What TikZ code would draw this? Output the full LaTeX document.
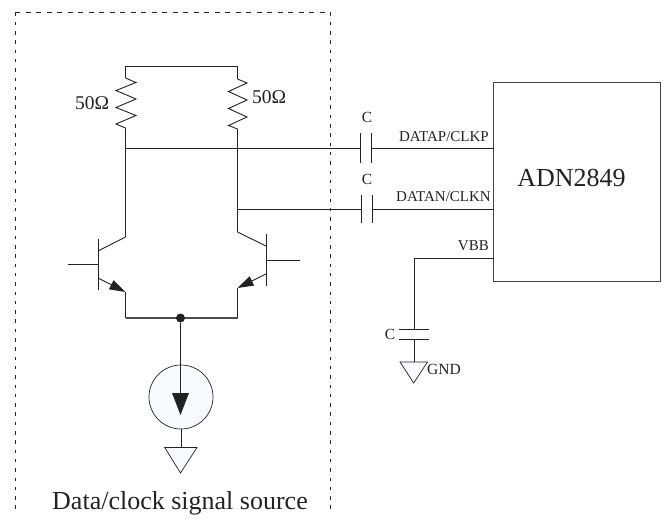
\documentclass[tikz,border=0pt]{standalone}
\usepackage{fontspec}
\setmainfont{Liberation Serif}
\usetikzlibrary{arrows.meta}
\definecolor{ink}{HTML}{222222}
\definecolor{pale}{HTML}{F8FAFE}
\tikzset{
  wire/.style={draw=ink,line width=0.9pt},
  tail wire/.style={draw=ink!80,line width=1.3pt},
  bjt arrow/.style={draw=ink,line width=0.9pt,-{Triangle[length=16pt,width=10pt]}},
  lab/.style={inner sep=0pt,text=ink,font=\fontsize{15}{17}\selectfont},
  smalllab/.style={inner sep=0pt,text=ink,font=\fontsize{15.5}{17}\selectfont},
  ohm/.style={inner sep=0pt,text=ink,font=\fontsize{19.5}{21}\selectfont},
  big/.style={inner sep=0pt,text=ink,font=\fontsize{26}{28}\selectfont},
  gndtri/.style={draw=ink,line width=0.7pt,fill=pale,line join=miter},
  regionh/.style={draw=ink,line width=0.9pt,dash pattern=on 5pt off 5.5pt},
  regionv/.style={draw=ink,line width=0.9pt,dash pattern=on 3.5pt off 5.8pt}
}
\begin{document}
\begin{tikzpicture}[x=1pt,y=-1pt]
\useasboundingbox (0,0) rectangle (665,519);
% source region
\coordinate (rgTL) at (15,12.5);
\coordinate (rgTR) at (330,12.5);
\coordinate (rgBL) at (15,514);
\coordinate (rgBR) at (330,514);
\draw[regionh] (rgTL) -- (rgTR);
\draw[regionv] (rgTL) -- (rgBL);
\draw[regionv] (rgTR) -- (rgBR);
% rails
\coordinate (railL) at (125.5,66.5);
\coordinate (railR) at (237.5,66.5);
\coordinate (rLt) at (125.5,78);
\coordinate (rLb) at (125.5,128);
\coordinate (rRt) at (237.5,79);
\coordinate (rRb) at (237.5,129);
\coordinate (nodeL) at (125.5,148.5);
\coordinate (nodeR) at (237.5,209);
\coordinate (colL) at (125.5,237);
\coordinate (colR) at (237.5,232);
\coordinate (emL) at (125.5,292);
\coordinate (emR) at (237.5,288);
\coordinate (tailL) at (125.5,318);
\coordinate (tailR) at (237.5,318);
\draw[wire] (rLt) -- (railL) -- (railR) -- (rRt);
% resistors
\draw[wire] (rLt) -- ++(10.5,4.5) -- ++(-20,8) -- ++(20,8.5) -- ++(-20,8.5) -- ++(20,8) -- ++(-20,8.5) -- (rLb);
\draw[wire] (rRt) -- ++(9.5,4) -- ++(-18.5,8.5) -- ++(18.5,8.5) -- ++(-18.5,8.5) -- ++(18.5,8.5) -- ++(-18.5,8.5) -- (rRb);
\node[ohm] (ohmL) at (92,103) {50Ω};
\node[ohm] (ohmR) at (269,97) {50Ω};
% verticals
\draw[wire] (rLb) -- (nodeL) -- (colL);
\draw[wire] (rRb) -- (nodeR) -- (colR);
% left transistor
\coordinate (barLt) at (98,239);
\coordinate (barLb) at (98,290);
\coordinate (baseL) at (68,264);
\coordinate (baseLi) at (98,264);
\coordinate (cbL) at (98,251);
\coordinate (ebL) at (98,278);
\draw[wire] (barLt) -- (barLb);
\draw[wire] (baseL) -- (baseLi);
\draw[wire] (cbL) -- (colL);
\draw[bjt arrow] (ebL) -- (emL);
% right transistor
\coordinate (barRt) at (266,234);
\coordinate (barRb) at (266,286);
\coordinate (baseR) at (300,260);
\coordinate (baseRi) at (266,260);
\coordinate (cbR) at (266,246);
\coordinate (ebR) at (266,274);
\draw[wire] (barRt) -- (barRb);
\draw[wire] (baseR) -- (baseRi);
\draw[wire] (cbR) -- (colR);
\draw[bjt arrow] (ebR) -- (emR);
% tail
\coordinate (tailM) at (180.5,318);
\draw[wire] (emL) -- (tailL);
\draw[wire] (emR) -- (tailR);
\draw[tail wire] (tailL) -- (tailR);
\node[circle,fill=ink,minimum size=9pt,inner sep=0pt] (dot) at (tailM) {};
% current source
\node[circle,draw=ink,line width=0.7pt,fill=pale,minimum size=64pt,inner sep=0pt] (src) at (181,397) {};
\coordinate (arrTop) at (180.5,393);
\draw[wire] (dot) -- (arrTop);
\fill[ink] (172,393) -- (189,393) -- (180.5,415) -- cycle;
% ground
\coordinate (gnd1) at (181,447.5);
\draw[wire] (src) -- (gnd1);
\draw[gndtri] (164.7,447.5) -- (197,447.5) -- (180.5,473) -- cycle;
\node[big] (title) at (180,503) {Data/clock signal source};
% chip
\node[draw=ink!85,line width=1pt,minimum width=166.5pt,minimum height=198pt,inner sep=0pt] (chip) at (576.75,182) {};
\node[big] (chipname) at (571.5,178) {ADN2849};
% coupling capacitors
\coordinate (cp1) at (360,148.5);
\coordinate (cp2) at (371,148.5);
\coordinate (cn1) at (361,209);
\coordinate (cn2) at (372,209);
\coordinate (pinP) at (494,148.5);
\coordinate (pinN) at (494,209);
\draw[wire] (nodeL) -- (cp1);
\draw[wire] (cp2) -- (pinP);
\draw[wire] (nodeR) -- (cn1);
\draw[wire] (cn2) -- (pinN);
\draw[wire] (360,133) -- (360,163);
\draw[wire] (371,133) -- (371,163);
\draw[wire] (361,195) -- (361,223);
\draw[wire] (372,195) -- (372,223);
\node[smalllab] (c1) at (367,117) {C};
\node[smalllab] (c2) at (367,179) {C};
\node[lab,anchor=east] (datap) at (489,137) {DATAP/CLKP};
\node[lab,anchor=east] (datan) at (491,197) {DATAN/CLKN};
% VBB
\coordinate (pinV) at (494,258.5);
\coordinate (vc) at (414.5,258.5);
\coordinate (vp1) at (414.5,329);
\coordinate (vp2) at (414.5,339);
\coordinate (gnd2) at (414.5,362);
\draw[wire] (pinV) -- (vc) -- (vp1);
\draw[wire] (vp2) -- (gnd2);
\draw[wire] (399,329) -- (429,329);
\draw[wire] (399,339) -- (429,339);
\node[lab,anchor=east] (vbb) at (489,246) {VBB};
\node[smalllab] (c3) at (390,334) {C};
\draw[gndtri] (400,362) -- (427.5,362) -- (413.7,383) -- cycle;
\node[smalllab,anchor=west] (gndl) at (427,369) {GND};
\end{tikzpicture}
\end{document}
